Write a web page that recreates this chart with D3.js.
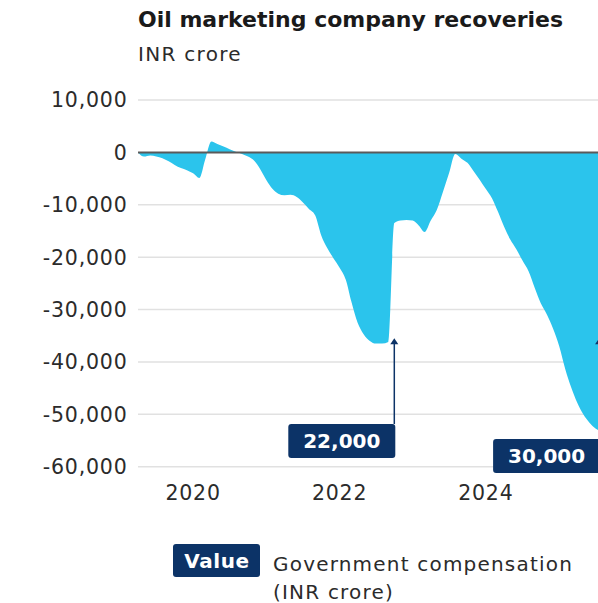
<!DOCTYPE html>
<html>
<head>
<meta charset="utf-8">
<script src="https://cdn.jsdelivr.net/npm/d3@7"></script>
<style>
  body { margin: 0; background: #fff; overflow: hidden; }
  svg { display: block; font-family: "DejaVu Sans", sans-serif; }
  .grid line { stroke: #e1e1e1; stroke-width: 1.5px; }
  .tick-label { fill: #2b2b2b; font-size: 20.5px; letter-spacing: 0.8px; }
</style>
</head>
<body>
<svg id="chart" width="598" height="603"></svg>
<script>
// monthly points, Apr 2019 onward (cumulative recoveries, INR crore)
const months = [
  "2019-04-01","2019-05-01","2019-06-01","2019-07-01","2019-08-01","2019-09-01","2019-10-01","2019-11-01","2019-12-01",
  "2020-01-01","2020-02-01","2020-03-01","2020-04-01","2020-05-01","2020-06-01","2020-07-01","2020-08-01","2020-09-01","2020-10-01","2020-11-01","2020-12-01",
  "2021-01-01","2021-02-01","2021-03-01","2021-04-01","2021-05-01","2021-06-01","2021-07-01","2021-08-01","2021-09-01","2021-10-01","2021-11-01","2021-12-01",
  "2022-01-01","2022-02-01","2022-03-01","2022-04-01","2022-05-01","2022-06-01","2022-07-01","2022-08-01","2022-09-01","2022-10-01","2022-11-01","2022-12-01",
  "2023-01-01","2023-02-01","2023-03-01","2023-04-01","2023-05-01","2023-06-01","2023-07-01","2023-08-01","2023-09-01","2023-10-01","2023-11-01","2023-12-01",
  "2024-01-01","2024-02-01","2024-03-01","2024-04-01","2024-05-01","2024-06-01","2024-07-01","2024-08-01","2024-09-01","2024-10-01","2024-11-01","2024-12-01",
  "2025-01-01","2025-02-01","2025-03-01","2025-04-01","2025-05-01","2025-06-01","2025-07-01","2025-08-01"
];
const recoveries = [
  0, -800, -600, -800, -1100, -1700, -2400, -3000, -3400,
  -4000, -4900, -1400, 2100, 1600, 1100, 600, 100, -300, -800, -1600, -3200,
  -5300, -7000, -7900, -8200, -8100, -8500, -9500, -10800, -12000, -15800, -18300, -20200,
  -22000, -24300, -28500, -32500, -34700, -36000, -36500, -36500, -36200, -13500, -13000, -12900,
  -13000, -14000, -15200, -13000, -11000, -7500, -4000, -300, -1200, -2000, -3600, -5200,
  -7000, -8800, -11300, -14200, -16600, -18500, -20600, -22700, -25900, -28800, -31000, -33600,
  -37000, -41500, -44800, -47800, -50000, -51600, -52700, -53300
];

const yTicks = [10000, 0, -10000, -20000, -30000, -40000, -50000, -60000];
const xTickYears = ["2020", "2022", "2024"];

// government compensation payments
const compDates = ["2022-10-01", "2025-07-19"];
const compLabels = ["22,000", "30,000"];
const compTipValue = -35500;

const parse = d3.timeParse("%Y-%m-%d");
const series = months.map((m, i) => ({ date: parse(m), value: recoveries[i] }));

const svg = d3.select("#chart");
const plotLeft = 138, plotTop = 100, plotBottom = 466.7;

const x = d3.scaleTime()
  .domain([parse("2019-04-01"), parse("2026-04-01")])
  .range([plotLeft, plotLeft + 7 * 73.2]);
const y = d3.scaleLinear().domain([-60000, 10000]).range([plotBottom, plotTop]);

// title
svg.append("text").attr("x", plotLeft).attr("y", 27)
  .attr("font-size", 22).attr("font-weight", "bold").attr("fill", "#1a1a1a")
  .text("Oil marketing company recoveries");
svg.append("text").attr("x", plotLeft).attr("y", 61)
  .attr("font-size", 20).attr("fill", "#2b2b2b").attr("letter-spacing", 1.3)
  .text("INR crore");

// gridlines
svg.append("g").attr("class", "grid")
  .selectAll("line").data(yTicks.filter(d => d !== 0)).join("line")
  .attr("x1", plotLeft).attr("x2", 660)
  .attr("y1", d => y(d)).attr("y2", d => y(d));

// y labels
svg.append("g").selectAll("text").data(yTicks).join("text")
  .attr("class", "tick-label")
  .attr("x", 127.5).attr("y", d => y(d)).attr("dy", "0.36em")
  .attr("text-anchor", "end")
  .text(d => d3.format(",")(d).replace("−", "-"));

// x labels
svg.append("g").selectAll("text").data(xTickYears).join("text")
  .attr("class", "tick-label")
  .attr("x", d => x(parse(d + "-01-01"))).attr("y", 500)
  .attr("text-anchor", "middle")
  .text(d => d);

// area
const area = d3.area()
  .x(d => x(d.date))
  .y0(y(0))
  .y1(d => y(d.value))
  .curve(d3.curveMonotoneX);

svg.append("path").datum(series)
  .attr("fill", "#2bc4ec")
  .attr("d", area);

// zero line
svg.append("line")
  .attr("x1", plotLeft).attr("x2", 660)
  .attr("y1", y(0)).attr("y2", y(0))
  .attr("stroke", "#5a5a5a").attr("stroke-width", 2);

// annotations
const navy = "#0c3367";
const boxTops = [424, 439];
const boxW = 107, boxH = 34;
compDates.forEach((d, i) => {
  const ax = x(parse(d));
  const g = svg.append("g");
  g.append("line")
    .attr("x1", ax).attr("x2", ax)
    .attr("y1", boxTops[i]).attr("y2", y(compTipValue) + 4)
    .attr("stroke", navy).attr("stroke-width", 1.5);
  g.append("path")
    .attr("d", `M${ax - 4},${y(compTipValue) + 6} L${ax},${y(compTipValue)} L${ax + 4},${y(compTipValue) + 6} Z`)
    .attr("fill", navy);
  g.append("rect")
    .attr("x", ax - boxW + 1).attr("y", boxTops[i])
    .attr("width", boxW).attr("height", boxH).attr("rx", 3)
    .attr("fill", navy);
  g.append("text")
    .attr("x", ax - boxW / 2 + 1).attr("y", boxTops[i] + boxH / 2).attr("dy", "0.36em")
    .attr("text-anchor", "middle").attr("fill", "#fff")
    .attr("font-size", 20).attr("font-weight", "bold")
    .text(compLabels[i]);
});

// legend
const lg = svg.append("g");
lg.append("rect").attr("x", 173).attr("y", 544).attr("width", 87).attr("height", 33)
  .attr("rx", 3).attr("fill", navy);
lg.append("text").attr("x", 217).attr("y", 561).attr("dy", "0.36em")
  .attr("text-anchor", "middle").attr("fill", "#fff")
  .attr("font-size", 20).attr("font-weight", "bold").attr("letter-spacing", 0.6)
  .text("Value");
lg.append("text").attr("x", 273).attr("y", 571)
  .attr("font-size", 20).attr("fill", "#2b2b2b").attr("letter-spacing", 1.2)
  .text("Government compensation");
lg.append("text").attr("x", 273).attr("y", 599)
  .attr("font-size", 20).attr("fill", "#2b2b2b").attr("letter-spacing", 1.2)
  .text("(INR crore)");
</script>
</body>
</html>
